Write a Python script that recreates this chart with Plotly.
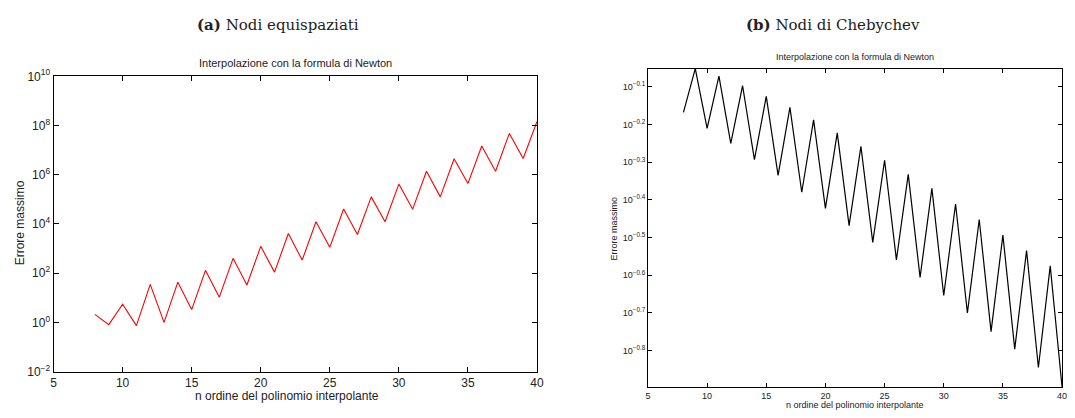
import math
import plotly.graph_objects as go

# ---- data ----
n_left = [8, 9, 10, 11, 12, 13, 14, 15, 16, 17, 18, 19, 20, 21, 22, 23, 24,
          25, 26, 27, 28, 29, 30, 31, 32, 33, 34, 35, 36, 37, 38, 39, 40]
err_equi = [2.1, 0.81, 5.5, 0.74, 35, 1.0, 43, 3.3, 130, 10.6, 400, 33, 1230,
            110, 4070, 339, 12300, 1120, 40700, 3720, 126000, 12300, 417000,
            39800, 1.38e6, 1.26e5, 4.47e6, 4.37e5, 1.48e7, 1.38e6, 4.79e7,
            4.57e6, 1.45e8]

n_right = [8, 9, 10, 11, 12, 13, 14, 15, 16, 17, 18, 19, 20, 21, 22, 23, 24,
           25, 26, 27, 28, 29, 30, 31, 32, 33, 34, 35, 36, 37, 38, 39, 40]
err_cheb = [0.679, 0.887, 0.616, 0.847, 0.562, 0.799, 0.509, 0.749, 0.462,
            0.700, 0.417, 0.649, 0.378, 0.599, 0.340, 0.552, 0.307, 0.507,
            0.276, 0.465, 0.248, 0.427, 0.222, 0.388, 0.1995, 0.353, 0.178,
            0.321, 0.160, 0.292, 0.143, 0.266, 0.127]

x_ticks = [5, 10, 15, 20, 25, 30, 35, 40]
left_y_exps = [-2, 0, 2, 4, 6, 8, 10]
right_y_exps = ["-0.1", "-0.2", "-0.3", "-0.4", "-0.5", "-0.6", "-0.7", "-0.8"]

caption_a = "<b>(a)</b> Nodi equispaziati"
caption_b = "<b>(b)</b> Nodi di Chebychev"
plot_title = "Interpolazione con la formula di Newton"
x_title = "n ordine del polinomio interpolante"
y_title = "Errore massimo"

W, H = 1075, 418

def px_x(p):
    return p / W

def px_y(p):
    return 1 - p / H

fig = go.Figure()
fig.add_trace(go.Scatter(x=n_left, y=err_equi, mode="lines",
                         line=dict(color="#ff0000", width=1.1),
                         xaxis="x", yaxis="y", showlegend=False))
fig.add_trace(go.Scatter(x=n_right, y=err_cheb, mode="lines",
                         line=dict(color="#000000", width=1.2),
                         xaxis="x2", yaxis="y2", showlegend=False))

sans = "Liberation Sans, Arial, sans-serif"
axis_common = dict(showline=True, linecolor="black", linewidth=1,
                   mirror="ticks", ticks="inside", tickcolor="black",
                   showgrid=False, zeroline=False)

fig.update_layout(
    width=W, height=H,
    margin=dict(l=0, r=0, t=0, b=0),
    paper_bgcolor="white", plot_bgcolor="white",
    xaxis=dict(domain=[px_x(51), px_x(539)], range=[5, 40], anchor="y",
               tickvals=x_ticks, ticklen=5, tickwidth=1,
               tickfont=dict(family=sans, size=12, color="#222"),
               **axis_common),
    yaxis=dict(domain=[px_y(377), px_y(70)], type="log", range=[-2, 10],
               anchor="x",
               tickvals=[10.0 ** e for e in left_y_exps],
               ticktext=["10<sup>%s</sup>" % (str(e).replace("-", "−")) for e in left_y_exps],
               ticklen=5, tickwidth=1,
               tickfont=dict(family=sans, size=12, color="#222"),
               **axis_common),
    xaxis2=dict(domain=[px_x(651), px_x(1069)], range=[5, 40], anchor="y2",
                tickvals=x_ticks, ticklen=4, tickwidth=1,
                tickfont=dict(family=sans, size=9, color="#222"),
                **axis_common),
    yaxis2=dict(domain=[px_y(393), px_y(62)], type="log",
                range=[math.log10(min(err_cheb)), math.log10(max(err_cheb))],
                anchor="x2",
                tickvals=[10 ** float(e) for e in right_y_exps],
                ticktext=["10<sup>%s</sup>" % e.replace("-", "−") for e in right_y_exps],
                ticklen=4, tickwidth=1,
                tickfont=dict(family=sans, size=9, color="#222"),
                **axis_common),
)

serif = "DejaVu Serif, Liberation Serif, serif"
ann = [
    dict(text=caption_a, x=px_x(278), y=px_y(17), font=dict(family=serif, size=15, color="#222")),
    dict(text=caption_b, x=px_x(838), y=px_y(17), font=dict(family=serif, size=15, color="#222")),
    dict(text=plot_title, x=px_x(295), y=px_y(56), font=dict(family=sans, size=11, color="#222")),
    dict(text=plot_title, x=px_x(860), y=px_y(50), font=dict(family=sans, size=9, color="#222")),
    dict(text=x_title, x=px_x(287), y=px_y(402), font=dict(family=sans, size=12, color="#222")),
    dict(text=x_title, x=px_x(860), y=px_y(412), font=dict(family=sans, size=9, color="#222")),
    dict(text=y_title, x=px_x(17), y=px_y(222), textangle=-90, font=dict(family=sans, size=12, color="#222")),
    dict(text=y_title, x=px_x(617), y=px_y(228), textangle=-90, font=dict(family=sans, size=9, color="#222")),
]
for a in ann:
    a.update(xref="paper", yref="paper", showarrow=False,
             xanchor="center", yanchor="middle")
fig.update_layout(annotations=ann)

fig.write_html("out.html")
